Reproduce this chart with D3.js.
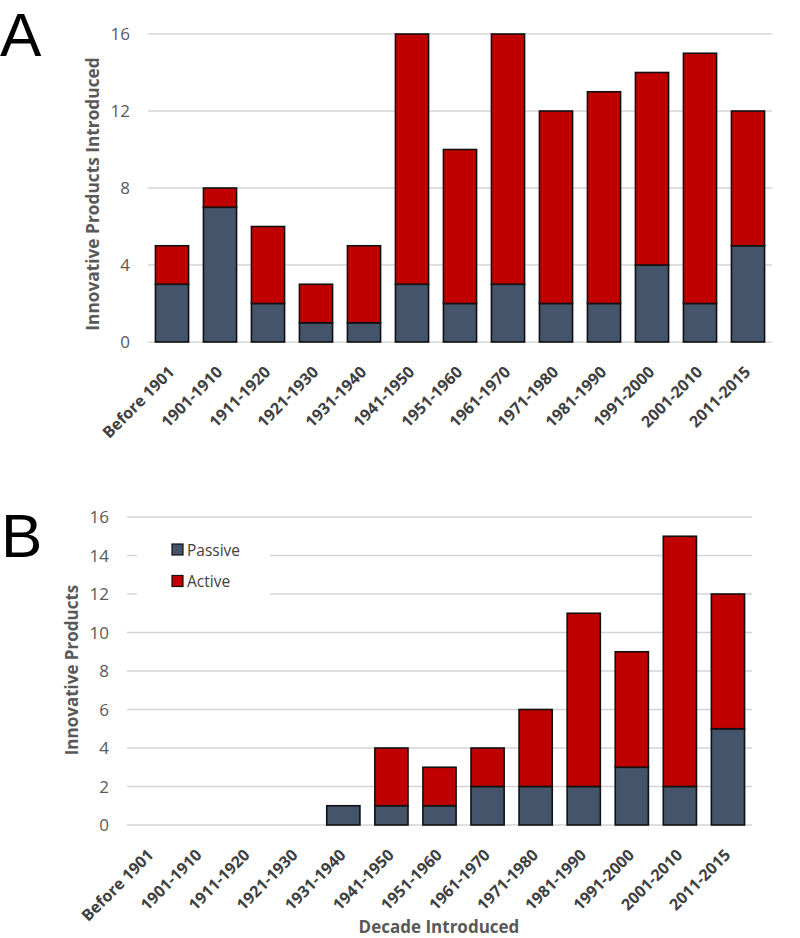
<!DOCTYPE html>
<html><head><meta charset="utf-8">
<script src="https://cdn.jsdelivr.net/npm/d3@7"></script>
<style>body{margin:0;background:#fff}svg{display:block}</style>
</head><body>
<svg id="c" width="800" height="938"></svg>
<script>
const categories = ["Before 1901","1901-1910","1911-1920","1921-1930","1931-1940","1941-1950","1951-1960","1961-1970","1971-1980","1981-1990","1991-2000","2001-2010","2011-2015"];
const passiveA = [3,7,2,1,1,3,2,3,2,2,4,2,5];
const activeA  = [2,1,4,2,4,13,8,13,10,11,10,13,7];
const passiveB = [0,0,0,0,1,1,1,2,2,2,3,2,5];
const activeB  = [0,0,0,0,0,3,2,2,4,9,6,13,7];
const ticksA = [0,4,8,12,16];
const ticksB = [0,2,4,6,8,10,12,14,16];
const seriesNames = ["Passive","Active"];
const colors = {Passive:"#44546A", Active:"#C00000"};

const svg = d3.select("#c");

function panel(opt){
  const g = svg.append("g");
  const x = d3.scaleBand().domain(categories).range([opt.x0, opt.x1]).paddingInner(0.31).paddingOuter(0.155);
  const y = d3.scaleLinear().domain([0,16]).range([opt.y0, opt.y1]);
  g.append("g").selectAll("line").data(opt.ticks).join("line")
    .attr("x1",opt.x0).attr("x2",opt.x1)
    .attr("y1",d=>y(d)).attr("y2",d=>y(d))
    .attr("stroke","#d4d4d4").attr("stroke-width",1.5);
  g.append("g").selectAll("text").data(opt.ticks).join("text")
    .attr("x",opt.x0-18).attr("y",d=>y(d)).attr("dy","0.36em")
    .attr("text-anchor","end").attr("font-family","Open Sans").attr("font-size",17)
    .attr("fill","#595959").text(d=>d);
  const rows = categories.map((c,i)=>({cat:c, Passive:opt.passive[i], Active:opt.active[i]}));
  const stack = d3.stack().keys(seriesNames)(rows);
  g.append("g").selectAll("g").data(stack).join("g")
    .attr("fill",d=>colors[d.key])
    .selectAll("rect").data(d=>d.filter(p=>p[1]-p[0]>0)).join("rect")
    .attr("x",d=>x(d.data.cat)).attr("width",x.bandwidth())
    .attr("y",d=>y(d[1])).attr("height",d=>y(d[0])-y(d[1]))
    .attr("stroke","#111").attr("stroke-width",1.6);
  g.append("g").selectAll("text").data(categories).join("text")
    .attr("transform",d=>`translate(${x(d)+x.bandwidth()/2+3.5},${opt.y0+31}) rotate(-45)`)
    .attr("text-anchor","end").attr("font-family","Open Sans").attr("font-weight",700)
    .attr("font-size",16).attr("fill","#404040").text(d=>d);
  g.append("text")
    .attr("transform",`translate(${opt.yTitleX},${opt.yTitleY}) rotate(-90)`)
    .attr("text-anchor","middle").attr("font-family","Open Sans").attr("font-weight",700)
    .attr("font-size",opt.yTitleSize).attr("fill","#595959").text(opt.yTitle);
  svg.append("text").attr("x",opt.letterX).attr("y",opt.letterY)
    .attr("font-family","Liberation Sans").attr("font-size",62).attr("fill","#000").text(opt.letter);
  return {g,x,y};
}

panel({x0:148,x1:772,y0:342,y1:34,ticks:ticksA,passive:passiveA,active:activeA,
  yTitle:"Innovative Products Introduced",yTitleX:99,yTitleY:194,yTitleSize:17.3,letter:"A",letterX:0,letterY:56});

panel({x0:127,x1:752,y0:825,y1:517,ticks:ticksB,passive:passiveB,active:activeB,
  yTitle:"Innovative Products",yTitleX:78,yTitleY:670,yTitleSize:17,letter:"B",letterX:1,letterY:557});

svg.append("text").attr("x",439).attr("y",933).attr("text-anchor","middle")
  .attr("font-family","Open Sans").attr("font-weight",700).attr("font-size",17)
  .attr("fill","#595959").text("Decade Introduced");

const lg = svg.append("g");
lg.append("rect").attr("x",137).attr("y",532).attr("width",133).attr("height",70).attr("fill","#fff");
seriesNames.forEach((s,i)=>{
  lg.append("rect").attr("x",172).attr("y",544+i*31.5).attr("width",11).attr("height",11)
    .attr("fill",colors[s]).attr("stroke","#111").attr("stroke-width",1.2);
  lg.append("text").attr("x",187).attr("y",556+i*30.5).attr("font-family","Open Sans")
    .attr("font-size",15.5).attr("fill","#404040").text(s);
});
</script>
</body></html>
